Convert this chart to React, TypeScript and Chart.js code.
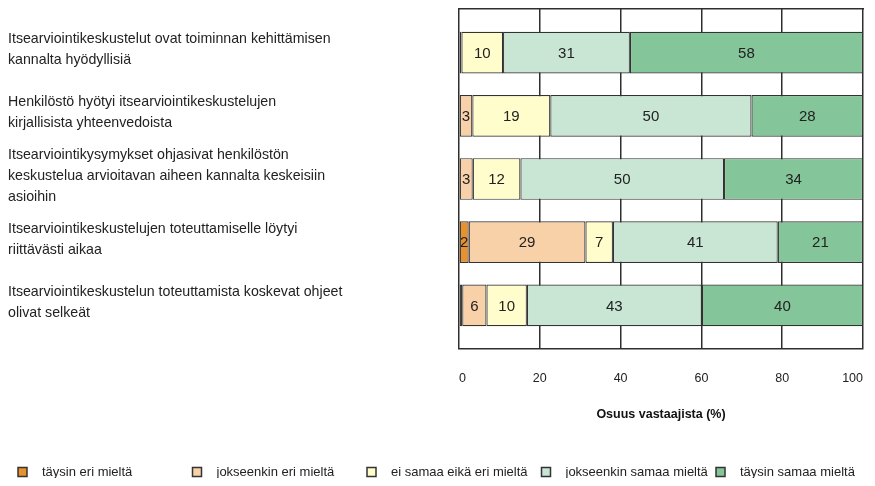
import React, { useEffect, useRef } from "react";
import { Chart, registerables } from "chart.js";
Chart.register(...registerables);

const categories: string[][] = [
  ["Itsearviointikeskustelut ovat toiminnan kehittämisen", "kannalta hyödyllisiä"],
  ["Henkilöstö hyötyi itsearviointikeskustelujen", "kirjallisista yhteenvedoista"],
  ["Itsearviointikysymykset ohjasivat henkilöstön", "keskustelua arvioitavan aiheen kannalta keskeisiin", "asioihin"],
  ["Itsearviointikeskustelujen toteuttamiselle löytyi", "riittävästi aikaa"],
  ["Itsearviointikeskustelun toteuttamista koskevat ohjeet", "olivat selkeät"],
];

const seriesNames = [
  "täysin eri mieltä",
  "jokseenkin eri mieltä",
  "ei samaa eikä eri mieltä",
  "jokseenkin samaa mieltä",
  "täysin samaa mieltä",
];

const taysinEri = [0, 0, 0, 2.4, 0.8];
const jokseenkinEri = [0.6, 3.3, 3.4, 28.9, 6.0];
const eiSamaaEikaEri = [10.3, 19.3, 11.8, 6.8, 10.0];
const jokseenkinSamaa = [31.4, 49.8, 50.4, 40.8, 43.3];
const taysinSamaa = [57.7, 27.6, 34.4, 21.1, 39.9];

const xTickMin = 0;
const xTickMax = 100;
const xTickStep = 20;

const axisTitle = "Osuus vastaajista (%)";

const colors = ["#E8912D", "#F9D1A9", "#FFFDCB", "#C9E6D5", "#85C59A"];
const FONT = '"Liberation Sans", Arial, Helvetica, sans-serif';
const NARROW = '"Liberation Sans Narrow", "Arial Narrow", "Liberation Sans", Arial, sans-serif';

const dataLabelPlugin = {
  id: "barValueLabels",
  afterDatasetsDraw(chart: any) {
    const ctx = chart.ctx;
    ctx.save();
    ctx.font = `15px ${NARROW}`;
    ctx.fillStyle = "#222";
    ctx.textAlign = "center";
    ctx.textBaseline = "middle";
    chart.data.datasets.forEach((ds: any, i: number) => {
      const meta = chart.getDatasetMeta(i);
      meta.data.forEach((bar: any, j: number) => {
        const v = ds.data[j].x;
        if (v < 1.5) return;
        const p = bar.getCenterPoint();
        ctx.fillText(String(Math.round(v)), p.x, p.y + 1);
      });
    });
    ctx.restore();
  },
};

const gridLegendPlugin = {
  id: "gridLegend",
  afterDraw(chart: any) {
    const ctx = chart.ctx;
    const y = chart.height - 6;
    const colW = 174.5;
    ctx.save();
    chart.data.datasets.forEach((ds: any, i: number) => {
      const x = 10 + i * colW;
      ctx.fillStyle = ds.backgroundColor;
      ctx.fillRect(x, y - 4.5, 9, 9);
      ctx.strokeStyle = "#333";
      ctx.lineWidth = 1.5;
      ctx.strokeRect(x, y - 4.5, 9, 9);
      ctx.fillStyle = "#222";
      ctx.font = `13px ${FONT}`;
      ctx.textAlign = "left";
      ctx.textBaseline = "middle";
      ctx.fillText(ds.label, x + 24, y);
    });
    ctx.restore();
  },
};

export default function App() {
  const canvasRef = useRef<HTMLCanvasElement | null>(null);

  useEffect(() => {
    if (!canvasRef.current) return;
    const series = [taysinEri, jokseenkinEri, eiSamaaEikaEri, jokseenkinSamaa, taysinSamaa];
    const chart = new Chart(canvasRef.current, {
      type: "bar",
      data: {
        datasets: series.map((vals, i) => ({
          label: seriesNames[i],
          data: vals.map((v, j) => ({ x: v, y: j })),
          backgroundColor: colors[i],
          borderColor: "#333",
          borderWidth: 1.2,
          borderSkipped: false,
          barPercentage: 0.66,
          categoryPercentage: 1,
        })),
      },
      options: {
        indexAxis: "y",
        animation: false,
        responsive: true,
        maintainAspectRatio: false,
        layout: { padding: { top: 1, right: 4, bottom: 20, left: 0 } },
        plugins: {
          legend: { display: false },
          tooltip: { enabled: false },
        },
        scales: {
          x: {
            type: "linear",
            position: "bottom",
            stacked: true,
            min: xTickMin,
            max: xTickMax,
            grid: { color: "#2e2e2e", lineWidth: 1.5, drawTicks: false },
            border: { color: "#2e2e2e", width: 1.5 },
            ticks: {
              stepSize: xTickStep,
              padding: 22,
              align: "inner",
              color: "#222",
              font: { family: FONT, size: 12.5 },
            },
            title: {
              display: true,
              text: axisTitle,
              color: "#111",
              font: { family: FONT, size: 12.5, weight: "bold" },
              padding: { top: 0, bottom: 36 },
            },
            afterFit: (s: any) => {
              s.height = 109;
              s.paddingRight = 0;
              s.paddingLeft = 0;
            },
          },
          x2: {
            type: "linear",
            position: "top",
            min: xTickMin,
            max: xTickMax,
            grid: { display: true, color: "rgba(0,0,0,0)", drawTicks: false },
            border: { display: true, color: "#2e2e2e", width: 1.5 },
            ticks: { display: false },
            afterFit: (s: any) => {
              s.height = 0;
              s.paddingLeft = 0;
              s.paddingRight = 0;
            },
          },
          y: {
            type: "linear",
            reverse: true,
            stacked: true,
            offset: false,
            min: -0.69,
            max: 4.69,
            grid: { display: false, offset: false },
            border: { display: false },
            afterBuildTicks: (s: any) => {
              s.ticks = categories.map((_, i) => ({ value: i }));
            },
            afterFit: (s: any) => {
              s.width = 451;
              s.paddingTop = 0;
              s.paddingBottom = 0;
            },
            ticks: {
              autoSkip: false,
              crossAlign: "far",
              padding: 0,
              labelOffset: -3,
              color: "#222",
              font: { family: FONT, size: 14.2, lineHeight: 1.48 },
              callback: (v: any) => categories[Math.round(Number(v))] ?? "",
            },
          },
        },
      },
      plugins: [dataLabelPlugin, gridLegendPlugin],
    } as any);
    return () => chart.destroy();
  }, []);

  return (
    <div style={{ position: "relative", width: 859, height: 470 }}>
      <canvas ref={canvasRef} />
    </div>
  );
}
